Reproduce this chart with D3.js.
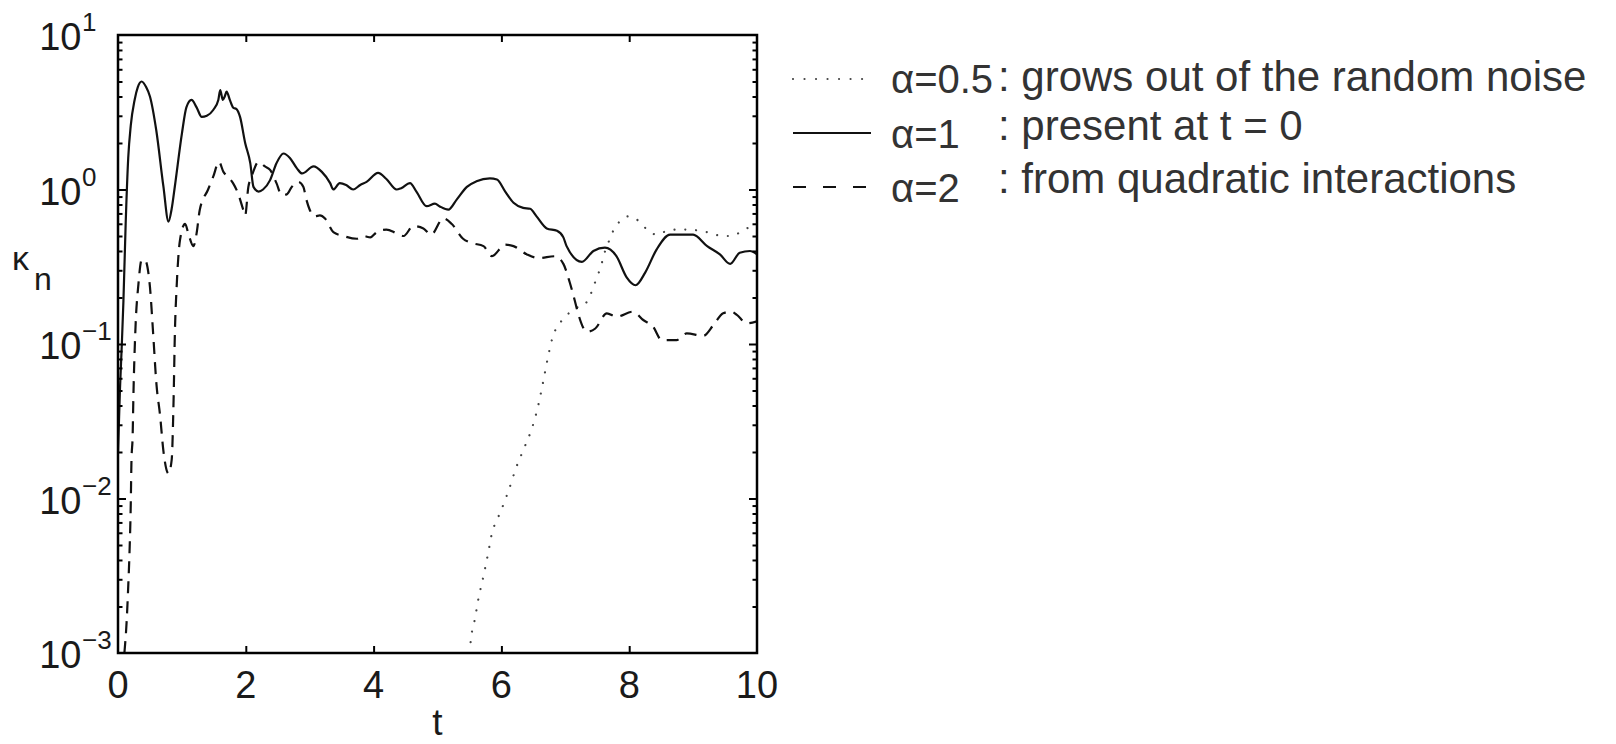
<!DOCTYPE html>
<html>
<head>
<meta charset="utf-8">
<script src="https://cdn.jsdelivr.net/npm/d3@7"></script>
<style>
  html, body { margin: 0; padding: 0; background: #fff; }
  svg { display: block; }
  text { font-family: "Liberation Sans", Arial, Helvetica, sans-serif; }
</style>
</head>
<body>
<svg id="chart" width="1616" height="744"></svg>
<script>
// ---------- data ----------
const xTickValues = [0, 2, 4, 6, 8, 10];
const yTickExponents = [1, 0, -1, -2, -3];

// alpha = 1 (solid): present at t = 0
const tAlpha1 = [0, 0.03, 0.06, 0.085, 0.12, 0.16, 0.2, 0.26, 0.31, 0.37, 0.44, 0.5, 0.6, 0.71, 0.79, 0.84, 0.89, 1.0, 1.07, 1.15,
  1.23, 1.31, 1.39, 1.49, 1.57, 1.6, 1.64, 1.67, 1.7, 1.75, 1.8, 1.86, 1.91, 1.99, 2.07, 2.12, 2.2, 2.27, 2.38, 2.48,
  2.59, 2.69, 2.8, 2.88, 3.06, 3.19, 3.32, 3.37, 3.47, 3.57, 3.68, 3.79, 3.89, 4.07, 4.2, 4.36, 4.43, 4.57, 4.67, 4.83,
  4.96, 5.03, 5.17, 5.3, 5.46, 5.61, 5.82, 5.93, 6.06, 6.19, 6.34, 6.45, 6.55, 6.71, 6.87, 6.97, 7.02, 7.26, 7.44, 7.62,
  7.8, 7.96, 8.1, 8.25, 8.43, 8.64, 8.85, 9.0, 9.22, 9.42, 9.58, 9.73, 9.89, 10];
const kAlpha1 = [0.02, 0.05, 0.1, 0.19, 0.6, 1.6, 2.6, 3.8, 4.6, 5.0, 4.6, 4.0, 2.4, 1.05, 0.62, 0.75, 1.05, 2.3, 3.4, 3.8,
  3.4, 2.95, 3.0, 3.27, 3.8, 4.4, 3.8, 4.0, 4.3, 3.8, 3.4, 3.3, 2.95, 2.0, 1.48, 1.04, 0.97, 1.0, 1.15, 1.48,
  1.71, 1.6, 1.37, 1.27, 1.41, 1.3, 1.1, 1.0, 1.1, 1.07, 1.0, 1.07, 1.12, 1.28, 1.17, 1.0, 1.02, 1.1, 0.97, 0.78,
  0.81, 0.78, 0.74, 0.86, 1.04, 1.13, 1.18, 1.16, 0.97, 0.82, 0.76, 0.75, 0.67, 0.56, 0.54, 0.49, 0.43, 0.34, 0.40, 0.42,
  0.37, 0.27, 0.24, 0.29, 0.41, 0.51, 0.51, 0.51, 0.43, 0.38, 0.33, 0.39, 0.40, 0.38];

// alpha = 2 (dashed): from quadratic interactions
const tAlpha2 = [0.1, 0.136, 0.16, 0.18, 0.2, 0.21, 0.23, 0.24, 0.27, 0.32, 0.37, 0.42, 0.5, 0.55, 0.6, 0.66, 0.71, 0.79, 0.84, 0.87,
  0.89, 0.92, 0.97, 1.05, 1.1, 1.18, 1.23, 1.28, 1.41, 1.49, 1.58, 1.65, 1.72, 1.8, 1.88, 1.96, 1.99, 2.04, 2.09, 2.2,
  2.3, 2.38, 2.48, 2.56, 2.64, 2.72, 2.82, 2.9, 2.95, 3.0, 3.08, 3.16, 3.24, 3.37, 3.53, 3.74, 3.84, 3.95, 4.05, 4.2,
  4.36, 4.47, 4.62, 4.78, 4.9, 5.09, 5.22, 5.4, 5.54, 5.72, 5.85, 6.06, 6.19, 6.4, 6.58, 6.84, 6.97, 7.07, 7.15, 7.2,
  7.34, 7.47, 7.65, 7.8, 8.06, 8.22, 8.37, 8.51, 8.74, 8.9, 9.16, 9.32, 9.47, 9.6, 9.68, 9.84, 10];
const kAlpha2 = [0.001, 0.00162, 0.00269, 0.00447, 0.0093, 0.017, 0.0263, 0.0437, 0.117, 0.245, 0.35, 0.35, 0.234, 0.117, 0.056, 0.034, 0.0204, 0.0145, 0.0178, 0.0437,
  0.117, 0.245, 0.47, 0.6, 0.52, 0.43, 0.52, 0.74, 1.0, 1.21, 1.51, 1.3, 1.21, 1.1, 0.94, 0.74, 0.68, 1.04, 1.21, 1.51,
  1.41, 1.34, 1.1, 0.92, 0.93, 1.04, 1.12, 1.04, 0.855, 0.74, 0.67, 0.68, 0.65, 0.53, 0.5, 0.48, 0.5, 0.49, 0.53, 0.55,
  0.52, 0.5, 0.58, 0.56, 0.51, 0.65, 0.6, 0.48, 0.45, 0.43, 0.37, 0.44, 0.43, 0.38, 0.36, 0.37, 0.33, 0.25, 0.19, 0.158,
  0.12, 0.126, 0.158, 0.15, 0.162, 0.143, 0.13, 0.106, 0.106, 0.117, 0.113, 0.133, 0.158, 0.162, 0.155, 0.136, 0.14];

// alpha = 0.5 (dotted): grows out of the random noise
const tAlpha05 = [5.5, 5.54, 5.58, 5.64, 5.72, 5.79, 5.86, 5.92, 5.99, 6.06, 6.12, 6.23, 6.36, 6.49, 6.58, 6.65, 6.72, 6.8, 6.86, 6.97,
  7.15, 7.29, 7.39, 7.45, 7.52, 7.57, 7.62, 7.68, 7.74, 7.85, 7.99, 8.14, 8.28, 8.43, 8.59, 8.74, 8.93, 9.11, 9.26, 9.45,
  9.6, 9.77, 9.92, 10];
const kAlpha05 = [0.001, 0.00138, 0.00162, 0.00224, 0.00316, 0.00437, 0.00617, 0.00708, 0.0083, 0.0098, 0.0115, 0.0158, 0.0214, 0.0295, 0.0407, 0.056, 0.079, 0.11, 0.127, 0.145,
  0.17, 0.178, 0.207, 0.241, 0.287, 0.333, 0.396, 0.46, 0.53, 0.62, 0.67, 0.63, 0.55, 0.51, 0.54, 0.55, 0.55, 0.54, 0.525, 0.5,
  0.5, 0.54, 0.58, 0.59];

const legendSymbols = ["α=0.5", "α=1", "α=2"];
const legendTexts = [": grows out of the random noise", ": present at t = 0", ": from quadratic interactions"];

// ---------- layout ----------
const svg = d3.select("#chart");
const L = 118, R = 757, T = 35, B = 653;
const x = d3.scaleLinear().domain([0, 10]).range([L, R]);
const y = d3.scaleLog().domain([1e-3, 10]).range([B, T]);

svg.append("defs").append("clipPath").attr("id", "clip")
  .append("rect").attr("x", L).attr("y", T).attr("width", R - L).attr("height", B - T);

const zip = (ts, ks) => ts.map((t, i) => ({t, k: ks[i]}));
const line = d3.line().x(d => x(d.t)).y(d => y(d.k)).curve(d3.curveMonotoneX);

const plot = svg.append("g").attr("clip-path", "url(#clip)");
plot.append("path").datum(zip(tAlpha05, kAlpha05)).attr("d", line)
  .attr("fill", "none").attr("stroke", "#444").attr("stroke-width", 2.2)
  .attr("stroke-linecap", "round").attr("stroke-dasharray", "0.01,10.8");
plot.append("path").datum(zip(tAlpha2, kAlpha2)).attr("d", line)
  .attr("fill", "none").attr("stroke", "#111").attr("stroke-width", 2.2)
  .attr("stroke-dasharray", "12,8");
plot.append("path").datum(zip(tAlpha1, kAlpha1)).attr("d", line)
  .attr("fill", "none").attr("stroke", "#111").attr("stroke-width", 2.2);

// ---------- axes / ticks ----------
const tickStyle = g => { g.select(".domain").remove(); g.selectAll("line").attr("stroke", "#000").attr("stroke-width", 2); };
const innerX = [2, 4, 6, 8];
svg.append("g").attr("transform", `translate(0,${B})`)
  .call(d3.axisBottom(x).tickValues(innerX).tickSize(-7).tickFormat(""))
  .call(tickStyle).selectAll("text").remove();
svg.append("g").attr("transform", `translate(0,${T})`)
  .call(d3.axisTop(x).tickValues(innerX).tickSize(-7).tickFormat(""))
  .call(tickStyle).selectAll("text").remove();

const majors = yTickExponents.map(e => Math.pow(10, e));
const minors = [];
for (let e = -3; e < 1; e++) for (let m = 2; m <= 9; m++) minors.push(m * Math.pow(10, e));
[[d3.axisLeft, L], [d3.axisRight, R]].forEach(([ax, pos]) => {
  svg.append("g").attr("transform", `translate(${pos},0)`)
    .call(ax(y).tickValues(majors.slice(1, 4)).tickSize(-8).tickFormat(""))
    .call(tickStyle).selectAll("text").remove();
  svg.append("g").attr("transform", `translate(${pos},0)`)
    .call(ax(y).tickValues(minors).tickSize(-4.5).tickFormat(""))
    .call(tickStyle).selectAll("text").remove();
});

// frame
svg.append("rect").attr("x", L).attr("y", T).attr("width", R - L).attr("height", B - T)
  .attr("fill", "none").attr("stroke", "#000").attr("stroke-width", 2.5);

// x tick labels
svg.append("g").selectAll("text").data(xTickValues).join("text")
  .attr("x", d => x(d)).attr("y", 698).attr("text-anchor", "middle")
  .attr("font-size", 38).attr("fill", "#1a1a1a").text(d => d);

// y tick labels 10^e
const yl = svg.append("g").selectAll("g").data(yTickExponents).join("g");
yl.append("text").attr("x", 81.5).attr("y", d => y(Math.pow(10, d)) + 15)
  .attr("text-anchor", "end").attr("font-size", 38).attr("fill", "#1a1a1a").text("10");
yl.append("text").attr("x", 82).attr("y", d => y(Math.pow(10, d)) - 4)
  .attr("font-size", 26).attr("fill", "#1a1a1a").text(d => d < 0 ? "\u2212" + (-d) : String(d));

// axis titles
svg.append("text").attr("x", (L + R) / 2).attr("y", 735).attr("text-anchor", "middle")
  .attr("font-size", 37).attr("fill", "#1a1a1a").text("t");
svg.append("text").attr("x", 12).attr("y", 270).attr("font-size", 34).attr("fill", "#1a1a1a").text("κ");
svg.append("text").attr("x", 34).attr("y", 290).attr("font-size", 32).attr("fill", "#1a1a1a").text("n");

// ---------- legend ----------
const legY = [79, 133, 187];
const legSymBase = [93, 148, 202];
const legTxtBase = [91, 140, 193];
const legDash = ["0.01,11.5", null, "13,17"];
const lg = svg.append("g");
legendSymbols.forEach((s, i) => {
  const ln = lg.append("line").attr("x1", 793).attr("x2", i === 0 ? 864 : 871)
    .attr("y1", legY[i]).attr("y2", legY[i])
    .attr("stroke", i === 0 ? "#444" : "#111").attr("stroke-width", 2.2);
  if (legDash[i]) ln.attr("stroke-dasharray", legDash[i]);
  if (i === 0) ln.attr("stroke-linecap", "round");
  lg.append("text").attr("x", 891).attr("y", legSymBase[i]).attr("font-size", 40)
    .attr("fill", "#333").text(s);
  lg.append("text").attr("x", 998).attr("y", legTxtBase[i]).attr("font-size", 42)
    .attr("fill", "#333").text(legendTexts[i]);
});
</script>
</body>
</html>
